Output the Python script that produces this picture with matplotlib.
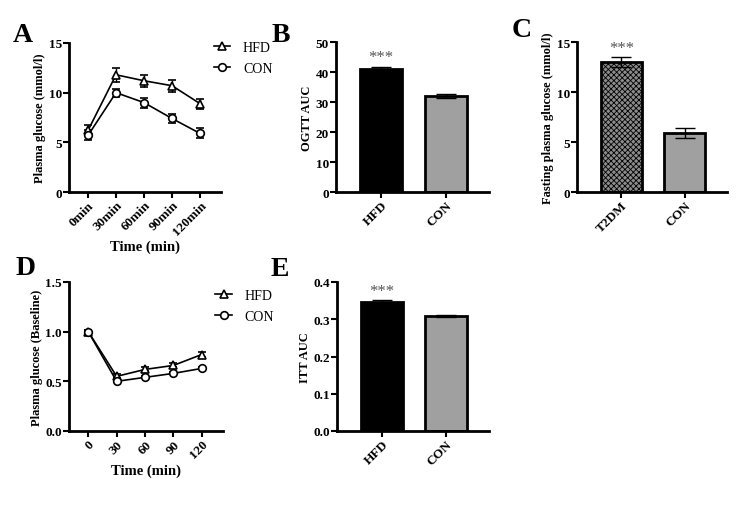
import matplotlib
matplotlib.use("Agg")
import matplotlib.pyplot as plt
from matplotlib.lines import Line2D
import numpy as np

plt.rcParams['font.family'] = ['Liberation Serif', 'DejaVu Serif']
plt.rcParams['font.weight'] = 'bold'
plt.rcParams['axes.labelweight'] = 'bold'
plt.rcParams['hatch.linewidth'] = 0.6

# ---- data ----
ogtt_times = ["0min", "30min", "60min", "90min", "120min"]
ogtt_hfd = [6.2, 11.8, 11.2, 10.7, 8.9]
ogtt_hfd_err = [0.5, 0.7, 0.6, 0.6, 0.5]
ogtt_con = [5.7, 10.0, 9.0, 7.4, 5.9]
ogtt_con_err = [0.5, 0.4, 0.5, 0.5, 0.5]

auc_groups = ["HFD", "CON"]
ogtt_auc = [41.0, 32.0]
ogtt_auc_err = [0.8, 0.8]

fpg_groups = ["T2DM", "CON"]
fpg = [13.0, 5.9]
fpg_err = [0.5, 0.5]

itt_times = ["0", "30", "60", "90", "120"]
itt_hfd = [1.0, 0.55, 0.62, 0.66, 0.77]
itt_hfd_err = [0.02, 0.02, 0.02, 0.02, 0.03]
itt_con = [1.0, 0.50, 0.54, 0.58, 0.63]
itt_con_err = [0.02, 0.01, 0.01, 0.01, 0.01]

itt_auc = [0.346, 0.309]
itt_auc_err = [0.005, 0.002]

W, H = 750, 506
fig = plt.figure(figsize=(7.5, 5.06), dpi=100)

TICK_FS = 9.5
LAB_FS = 9

def ax_at(l, t, r, b):
    return fig.add_axes([l / W, 1 - b / H, (r - l) / W, (b - t) / H])

def style(ax):
    for s in ['top', 'right']:
        ax.spines[s].set_visible(False)
    for s in ['left', 'bottom']:
        ax.spines[s].set_linewidth(2)
    ax.tick_params(width=1.5, length=4, labelsize=TICK_FS, pad=1)
    for lab in ax.get_xticklabels() + ax.get_yticklabels():
        lab.set_fontweight('bold')

def line_panel(ax, labels, hfd, hfd_err, con, con_err, ylim, yticks, yfmt, ylabel, leg_y):
    x = np.arange(len(labels))
    kw = dict(color='black', mfc='white', mec='black', ms=5.5, mew=1.2, lw=1.2,
              capsize=3, elinewidth=1)
    ax.errorbar(x, hfd, yerr=hfd_err, marker='^', **kw)
    ax.errorbar(x, con, yerr=con_err, marker='o', **kw)
    ax.set_xlim(-0.68, 4.75)
    ax.set_ylim(*ylim)
    ax.set_yticks(yticks)
    ax.set_yticklabels([yfmt.format(v) for v in yticks])
    ax.set_xticks(x)
    ax.set_xticklabels(labels, rotation=45, ha='right', rotation_mode='anchor')
    ax.set_ylabel(ylabel, fontsize=LAB_FS, fontweight='bold', labelpad=2)
    style(ax)
    handles = [Line2D([], [], color='black', marker='^', mfc='white', mec='black', ms=5.5, mew=1.2, lw=1.2),
               Line2D([], [], color='black', marker='o', mfc='white', mec='black', ms=5.5, mew=1.2, lw=1.2)]
    ax.legend(handles, ['HFD', 'CON'], loc='upper left', bbox_to_anchor=(0.87, leg_y),
              frameon=False, handlelength=1.2, handletextpad=0.9, labelspacing=0.6,
              prop={'weight': 'normal', 'size': 10})
    return ax

def bar_panel(ax, labels, vals, errs, ylim, yticks, yfmt, ylabel, hatch_first=False):
    x = np.arange(len(labels))
    colors = ['black', '#a0a0a0']
    if hatch_first:
        colors = ['#8c8c8c', '#a0a0a0']
    bars = ax.bar(x, vals, width=0.65, color=colors, edgecolor='black', linewidth=2, zorder=2)
    if hatch_first:
        bars[0].set_hatch('xxxxxx')
    ax.errorbar(x, vals, yerr=errs, fmt='none', ecolor='black',
                elinewidth=1, capsize=7, capthick=1, zorder=3)
    top = ylim[1]
    ax.text(x[0], vals[0] + errs[0] + 0.01 * top, '***', ha='center', va='bottom',
            fontsize=12, color='#555555', fontweight='normal')
    ax.set_xlim(-0.70, 1.67)
    ax.set_ylim(*ylim)
    ax.set_yticks(yticks)
    ax.set_yticklabels([yfmt.format(v) for v in yticks])
    ax.set_xticks(x)
    ax.set_xticklabels(labels, rotation=45, ha='right', rotation_mode='anchor')
    ax.set_ylabel(ylabel, fontsize=LAB_FS, fontweight='bold', labelpad=2)
    style(ax)

axA = ax_at(69, 44, 221, 193)
line_panel(axA, ogtt_times, ogtt_hfd, ogtt_hfd_err, ogtt_con, ogtt_con_err,
           (0, 15), [0, 5, 10, 15], "{:.0f}", "Plasma glucose (mmol/l)", 1.10)
axA.set_xlabel("Time (min)", fontsize=10.5, fontweight='bold', labelpad=2)

axB = ax_at(336, 43, 489, 193)
bar_panel(axB, auc_groups, ogtt_auc, ogtt_auc_err, (0, 50), [0, 10, 20, 30, 40, 50],
          "{:.0f}", "OGTT AUC")

axC = ax_at(577, 43, 727, 193)
bar_panel(axC, fpg_groups, fpg, fpg_err, (0, 15), [0, 5, 10, 15], "{:.0f}",
          "Fasting plasma glucose (mmol/l)", hatch_first=True)

axD = ax_at(69, 283, 223, 432)
line_panel(axD, itt_times, itt_hfd, itt_hfd_err, itt_con, itt_con_err,
           (0, 1.5), [0.0, 0.5, 1.0, 1.5], "{:.1f}", "Plasma glucose (Baseline)", 1.04)
axD.set_xlabel("Time (min)", fontsize=10.5, fontweight='bold', labelpad=2)

axE = ax_at(337, 283, 489, 432)
bar_panel(axE, auc_groups, itt_auc, itt_auc_err, (0, 0.4), [0.0, 0.1, 0.2, 0.3, 0.4],
          "{:.1f}", "ITT AUC")

for lab, x, y in [("A", 13, 42), ("B", 272, 42), ("C", 512, 37), ("D", 16, 275), ("E", 271, 276)]:
    fig.text(x / W, 1 - y / H, lab, fontsize=20, fontweight='bold', ha='left', va='baseline')

fig.savefig("out.png", dpi=100)
